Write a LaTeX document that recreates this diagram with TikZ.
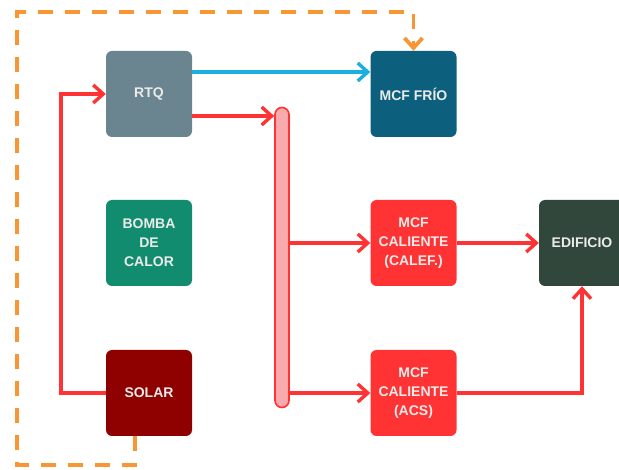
\documentclass[tikz,border=0pt]{standalone}
\usepackage{fontspec}
\setmainfont{Liberation Sans}
\usetikzlibrary{arrows.meta}
\definecolor{rtqgris}{RGB}{106,133,143}
\definecolor{friozul}{RGB}{12,95,125}
\definecolor{bombaverde}{RGB}{18,140,110}
\definecolor{solarrojo}{RGB}{143,0,0}
\definecolor{calrojo}{RGB}{255,51,51}
\definecolor{edifverde}{RGB}{50,71,60}
\definecolor{lineazul}{RGB}{26,175,220}
\definecolor{naranja}{RGB}{247,150,50}
\definecolor{colrosa}{RGB}{250,170,172}

\begin{document}
\begin{tikzpicture}[x=1pt, y=-1pt,
    caja/.style={rounded corners=6pt, minimum width=86pt, minimum height=86pt, inner sep=0pt,
        align=center, text=white!92!black, font=\bfseries\fontsize{14}{19}\selectfont},
    flecha/.style={-{Straight Barb[length=10pt,width=18pt]}},
    rojo/.style={line width=3.4pt, calrojo, flecha},
    azul/.style={line width=3.4pt, lineazul, flecha},
    retorno/.style={line width=3.8pt, naranja, dash pattern=on 15pt off 12pt, flecha}]
    \useasboundingbox (0,0) rectangle (619,470);

    \node[caja, fill=rtqgris] (rtq) at (149,94) {RTQ};
    \node[caja, fill=bombaverde] (bomba) at (149,243) {BOMBA\\DE\\CALOR};
    \node[caja, fill=solarrojo] (solar) at (149,393) {SOLAR};
    \node[caja, fill=friozul] (frio) at (413.5,94) {MCF FRÍO};
    \node[caja, fill=calrojo] (calef) at (413.5,243) {MCF\\CALIENTE\\(CALEF.)};
    \node[caja, fill=calrojo] (acs) at (413.5,393) {MCF\\CALIENTE\\(ACS)};
    \node[caja, fill=edifverde] (edificio) at (582,243) {EDIFICIO};
    \node[draw=calrojo, fill=colrosa, line width=1.6pt, rounded corners=7pt,
        minimum width=14pt, minimum height=300pt, inner sep=0pt] (colector) at (282,257.5) {};

    \coordinate (rtqfrio) at ([yshift=22pt]rtq.east);
    \coordinate (rtqcol) at ([yshift=-22pt]rtq.east);

    \draw[azul] (rtqfrio) -- (rtqfrio -| frio.west);
    \draw[rojo] (rtqcol) -- (rtqcol -| colector.west);
    \draw[rojo] (colector.east |- calef.west) -- (calef.west);
    \draw[rojo] (colector.east |- acs.west) -- (acs.west);
    \draw[rojo] (calef.east) -- (edificio.west);
    \draw[rojo] (acs.east) -| (edificio.south);
    \draw[rojo] (solar.west) -- ++(-45,0) |- (rtq.west);

    \draw[retorno] ([xshift=-14pt]solar.south) -- ++(0,29) -| (17,12) -| (frio.north);
\end{tikzpicture}
\end{document}
